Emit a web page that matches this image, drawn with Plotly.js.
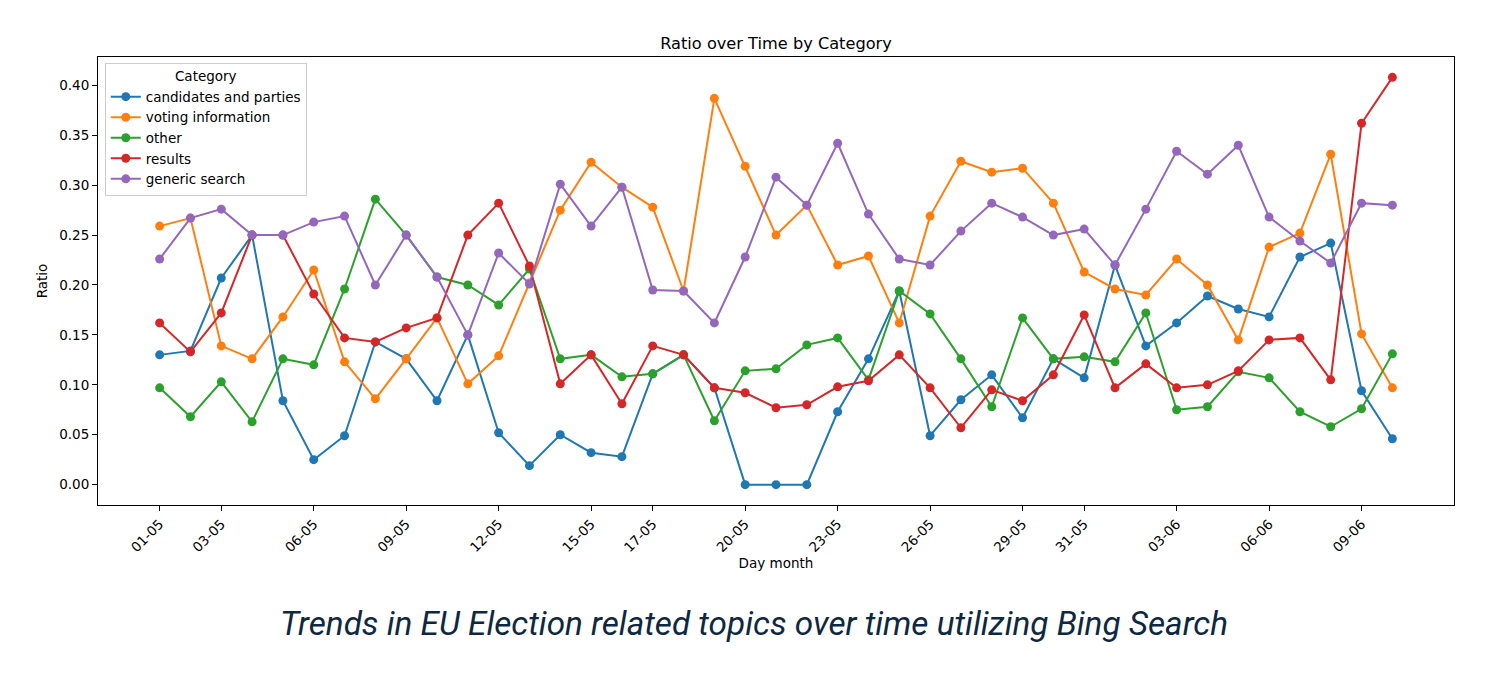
<!DOCTYPE html>
<html>
<head>
<meta charset="utf-8">
<script src="https://cdn.plot.ly/plotly-3.0.1.min.js"></script>
<style>
html,body{margin:0;padding:0;background:#fff;}
#chart{width:1508px;height:690px;}
</style>
</head>
<body>
<div id="chart"></div>
<script>
const days = ["01-05","02-05","03-05","04-05","05-05","06-05","07-05","08-05","09-05","10-05",
"11-05","12-05","13-05","14-05","15-05","16-05","17-05","18-05","19-05","20-05",
"21-05","22-05","23-05","24-05","25-05","26-05","27-05","28-05","29-05","30-05",
"31-05","01-06","02-06","03-06","04-06","05-06","06-06","07-06","08-06","09-06","10-06"];
const tickLabels = ["01-05","03-05","06-05","09-05","12-05","15-05","17-05","20-05","23-05","26-05","29-05","31-05","03-06","06-06","09-06"];
const categories = ["candidates and parties","voting information","other","results","generic search"];

const candidates = [0.130,0.134,0.207,0.250,0.084,0.025,0.049,0.143,0.126,0.084,0.150,0.052,0.019,0.050,0.032,0.028,0.111,0.130,0.097,0.000,0.000,0.000,0.073,0.126,0.194,0.049,0.085,0.110,0.067,0.126,0.107,0.220,0.139,0.162,0.189,0.176,0.168,0.228,0.242,0.094,0.046];
const voting = [0.259,0.267,0.139,0.126,0.168,0.215,0.123,0.086,0.126,0.167,0.101,0.129,0.202,0.275,0.323,0.298,0.278,0.194,0.387,0.319,0.250,0.280,0.220,0.229,0.162,0.269,0.324,0.313,0.317,0.282,0.213,0.196,0.190,0.226,0.200,0.145,0.238,0.252,0.331,0.151,0.097];
const other = [0.097,0.068,0.103,0.063,0.126,0.120,0.196,0.286,0.250,0.208,0.200,0.180,0.216,0.126,0.130,0.108,0.111,0.130,0.064,0.114,0.116,0.140,0.147,0.105,0.194,0.171,0.126,0.078,0.167,0.126,0.128,0.123,0.172,0.075,0.078,0.113,0.107,0.073,0.058,0.076,0.131];
const results = [0.162,0.133,0.172,0.250,0.250,0.191,0.147,0.143,0.157,0.167,0.250,0.282,0.219,0.101,0.130,0.081,0.139,0.130,0.097,0.092,0.077,0.080,0.098,0.104,0.130,0.097,0.057,0.095,0.084,0.110,0.170,0.097,0.121,0.097,0.100,0.114,0.145,0.147,0.105,0.362,0.408];
const generic = [0.226,0.267,0.276,0.250,0.250,0.263,0.269,0.200,0.250,0.208,0.150,0.232,0.201,0.301,0.259,0.298,0.195,0.194,0.162,0.228,0.308,0.280,0.342,0.271,0.226,0.220,0.254,0.282,0.268,0.250,0.256,0.220,0.276,0.334,0.311,0.340,0.268,0.244,0.222,0.282,0.280];
const yTicks = [0,0.05,0.10,0.15,0.20,0.25,0.30,0.35,0.40];

const series = [candidates, voting, other, results, generic];
const colors = ["#1f77b4","#ff7f0e","#2ca02c","#d62728","#9467bd"];

const traces = series.map((s, i) => ({
  x: days, y: s, name: categories[i], type: "scatter", mode: "lines+markers",
  line: {color: colors[i], width: 2},
  marker: {color: colors[i], size: 9}
}));

const font = "DejaVu Sans, sans-serif";
const fs = 13.5;
const layout = {
  width: 1508, height: 690,
  paper_bgcolor: "#fff", plot_bgcolor: "#fff",
  margin: {l: 98, r: 54, t: 57, b: 185},
  font: {family: font, size: fs, color: "#000"},
  title: {text: "Ratio over Time by Category", font: {family: font, size: 16.2, color: "#000"}, xref: "paper", x: 0.5, xanchor: "center", y: 1 - 43/690, yanchor: "middle"},
  showlegend: true,
  legend: {
    x: 0.005, y: 0.987, xanchor: "left", yanchor: "top",
    bgcolor: "rgba(255,255,255,0.8)", bordercolor: "#cccccc", borderwidth: 1,
    font: {family: font, size: fs, color: "#000"},
    title: {text: "Category", side: "top center", font: {family: font, size: fs, color: "#000"}},
    tracegroupgap: 0
  },
  xaxis: {
    type: "category", range: [-2, 42],
    tickmode: "array", tickvals: tickLabels, ticktext: tickLabels,
    tickangle: -45, ticks: "outside", ticklen: 5, tickcolor: "#000",
    showline: true, linecolor: "#000", linewidth: 1, mirror: true,
    showgrid: false, zeroline: false,
    tickfont: {family: font, size: fs, color: "#000"},
    title: {text: "Day month", font: {family: font, size: fs, color: "#000"}, standoff: 0}
  },
  yaxis: {
    range: [-0.0204, 0.4284],
    tickmode: "array", tickvals: yTicks, ticktext: yTicks.map(v => v.toFixed(2)),
    ticks: "outside", ticklen: 5, tickcolor: "#000",
    showline: true, linecolor: "#000", linewidth: 1, mirror: true,
    showgrid: false, zeroline: false,
    tickfont: {family: font, size: fs, color: "#000"},
    title: {text: "Ratio", font: {family: font, size: fs, color: "#000"}, standoff: 8}
  },
  annotations: [{
    text: "<i>Trends in EU Election related topics over time utilizing Bing Search</i>",
    xref: "paper", yref: "paper", x: (754 - 98) / 1356, xanchor: "center",
    y: -(623 - 505) / 448, yanchor: "middle", showarrow: false,
    font: {family: "Roboto, sans-serif", size: 33.3, color: "#0e2841"}
  }]
};

Plotly.newPlot("chart", traces, layout, {displayModeBar: false, staticPlot: true});
</script>
</body>
</html>
